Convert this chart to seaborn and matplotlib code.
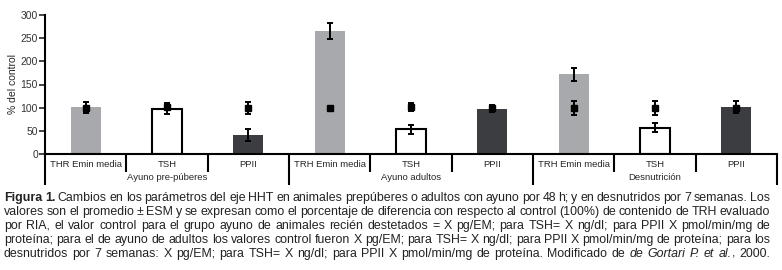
import numpy as np
import pandas as pd
import matplotlib
matplotlib.use("Agg")
import matplotlib.pyplot as plt
import seaborn as sns

# Chart data
categories = ["THR Emin media", "TSH", "PPII",
              "TRH Emin media", "TSH", "PPII",
              "TRH Emin media", "TSH", "PPII"]
tipos = ["TRH", "TSH", "PPII"] * 3
groups = ["Ayuno pre-púberes", "Ayuno adultos", "Desnutrición"]
bar_vals = [101, 98, 40, 265, 53, 98, 172, 57, 101]
bar_err = [12, 12, 13, 17, 9, 7, 14, 10, 13]
ctrl_vals = [100, 101, 100, 100, 101, 100, 100, 100, 100]
ctrl_err = [12, 3, 13, 0, 9, 4, 15, 15, 0]
yticks = [0, 50, 100, 150, 200, 250, 300]

caption = [
    [("Figura 1.", "bold", "normal"),
     ("Cambios en los parámetros del eje HHT en animales prepúberes o adultos con ayuno por 48 h; y en desnutridos por 7 semanas. Los", "normal", "normal")],
    [("valores son el promedio ± ESM y se expresan como el porcentaje de diferencia con respecto al control (100%) de contenido de TRH evaluado", "normal", "normal")],
    [("por RIA, el valor control para el grupo ayuno de animales recién destetados = X pg/EM; para TSH= X ng/dl; para PPII X pmol/min/mg de", "normal", "normal")],
    [("proteína; para el de ayuno de adultos los valores control fueron X pg/EM; para TSH= X ng/dl; para PPII X pmol/min/mg de proteína; para los", "normal", "normal")],
    [("desnutridos por 7 semanas: X pg/EM; para TSH= X ng/dl; para PPII X pmol/min/mg de proteína. Modificado de", "normal", "normal"),
     ("de Gortari P. et al.", "normal", "italic"),
     (", 2000.", "normal", "normal")],
]

sns.set_style("white")
plt.rcParams["font.family"] = ["Liberation Sans", "DejaVu Sans"]

W, H = 782, 270
fig = plt.figure(figsize=(W / 100, H / 100), dpi=100)
ax = fig.add_axes([45 / W, 1 - 154 / H, (777 - 45) / W, (154 - 15) / H])

df = pd.DataFrame({"pos": range(len(categories)), "valor": bar_vals, "tipo": tipos})
pal = {"TRH": "#a7a9ac", "TSH": "white", "PPII": "#3c3d41"}
sns.barplot(data=df, x="pos", y="valor", hue="tipo", palette=pal, dodge=False,
            width=0.37, legend=False, ax=ax, saturation=1)
for p in ax.patches:
    fc = p.get_facecolor()
    if fc[0] > 0.99 and fc[1] > 0.99:
        p.set_edgecolor("black")
        p.set_linewidth(1.5)
    else:
        p.set_edgecolor("none")

x = np.arange(len(categories))
ax.errorbar(x, bar_vals, yerr=bar_err, fmt="none", ecolor="black",
            elinewidth=1.4, capsize=2.2, capthick=1.4, zorder=5)
ax.errorbar(x, ctrl_vals, yerr=ctrl_err, fmt="s", color="black", ms=4.5,
            elinewidth=1.4, capsize=2.2, capthick=1.4, zorder=6)

ax.set_xlim(-0.5, len(categories) - 0.5)
ax.set_ylim(0, 300)
ax.set_yticks(yticks)
ax.tick_params(axis="y", length=4, width=1.2, labelsize=7.5, pad=1,
               left=True, labelcolor="#333333")
ax.set_xticks(x, categories)
ax.tick_params(axis="x", length=0, labelsize=6.8, pad=4)
ax.set_xlabel("")
ax.set_ylabel("% del control", fontsize=7.5, labelpad=2)
for s in ["top", "right"]:
    ax.spines[s].set_visible(False)
for s in ["left", "bottom"]:
    ax.spines[s].set_linewidth(1.5)
    ax.spines[s].set_color("black")

# group separators below the axis
unit = 154 - 15
trans = ax.get_xaxis_transform()
short_y = -(172 - 154) / unit
long_y = -(185 - 154) / unit
for i in range(len(categories) + 1):
    xb = i - 0.5
    yb = long_y if i % 3 == 0 else short_y
    ax.plot([xb, xb], [0, yb], color="black", lw=1.5, transform=trans,
            clip_on=False, solid_capstyle="butt")
for g, name in enumerate(groups):
    ax.text(3 * g + 1, -(178 - 154) / unit, name, transform=trans,
            ha="center", va="center", fontsize=6.8)

# caption, justified line by line
fig.canvas.draw()
rend = fig.canvas.get_renderer()
x0, x1 = 4, 770
line_y = [198, 212, 226, 240, 254]
fs = 8.9
for segs, ly in zip(caption, line_y):
    words = []
    for txt, wt, st in segs:
        for k, w in enumerate(txt.split(" ")):
            glue = (k == 0 and txt.startswith(","))
            words.append([w, wt, st, glue])
    items = []
    for w, wt, st, glue in words:
        t = fig.text(0, 1 - ly / H, w, fontsize=fs, fontweight=wt, fontstyle=st,
                     va="center", ha="left", color="#222222")
        wpx = t.get_window_extent(rend).width
        items.append((t, wpx, glue))
    total = sum(it[1] for it in items)
    ngaps = sum(1 for it in items[1:] if not it[2])
    gap = (x1 - x0 - total) / max(ngaps, 1)
    if gap < 1.5:
        # squeeze the font a little when the line would not fit
        scale = (x1 - x0 - 1.5 * ngaps) / total
        for t, _, _ in items:
            t.set_fontsize(fs * scale)
        items = [(t, t.get_window_extent(rend).width, g) for t, _, g in items]
        total = sum(it[1] for it in items)
        gap = (x1 - x0 - total) / max(ngaps, 1)
    cx = x0
    for j, (t, wpx, glue) in enumerate(items):
        if j > 0 and not glue:
            cx += gap
        t.set_x(cx / W)
        cx += wpx

fig.savefig("out.png", dpi=100)
